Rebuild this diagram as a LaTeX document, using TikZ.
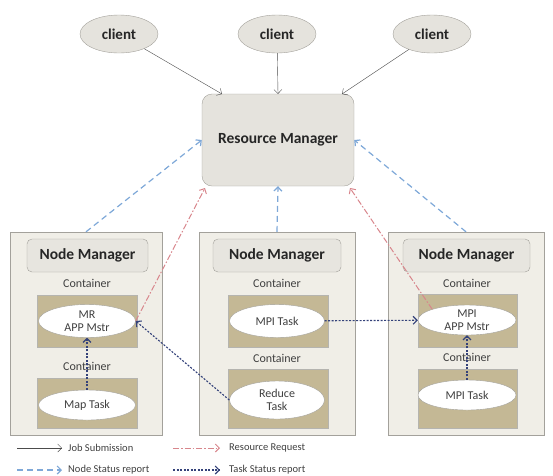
\documentclass[tikz,border=0pt]{standalone}
\usepackage{fontspec}
\setmainfont{Carlito}
\usepackage{xcolor}
\usepackage{tikz}
\usetikzlibrary{arrows.meta,shapes.geometric}

\definecolor{paper}{HTML}{F0EEE7}
\definecolor{tan}{HTML}{C4B895}
\definecolor{edgegray}{HTML}{A3A19B}
\definecolor{nodeblue}{HTML}{7EA8D8}
\definecolor{reqred}{HTML}{D8868C}
\definecolor{tasknavy}{HTML}{34427A}

\begin{document}
\begin{tikzpicture}[x=1pt,y=-1pt]
			\tikzstyle{client} = [ellipse, draw=edgegray, fill=paper!90!gray, minimum width=78pt, minimum height=38pt, font=\fontsize{15}{16}\selectfont\bfseries\color{black!85}]
			\tikzstyle{rmbox} = [draw=edgegray, fill=paper!90!gray, rounded corners=10pt, minimum width=152pt, minimum height=92pt, font=\fontsize{15.5}{16}\selectfont\bfseries\color{black!85}]
			\tikzstyle{host} = [draw=edgegray, fill=paper, minimum height=203pt]
			\tikzstyle{nmbox} = [draw=edgegray, fill=paper!92!gray, rounded corners=5pt, minimum height=33pt, font=\fontsize{15.5}{16}\selectfont\bfseries\color{black!85}]
			\tikzstyle{slot} = [draw=edgegray!80, fill=tan, minimum width=100pt]
			\tikzstyle{task} = [ellipse, draw=edgegray, fill=white, inner sep=0pt, align=center, font=\fontsize{12}{12.5}\selectfont\color{black!75}]
			\tikzstyle{label} = [font=\fontsize{12}{13}\selectfont\color{black!75}]
			\tikzstyle{legend} = [anchor=west, inner sep=0pt, font=\fontsize{10.5}{11}\selectfont\color{black!75}]
			\tikzset{jobedge/.style = {draw=black!70, -{Straight Barb[length=4pt]}}}
			\tikzset{statusedge/.style = {draw=nodeblue, line width=1.2pt, dash pattern=on 6pt off 4pt, -{Straight Barb[length=4pt]}}}
			\tikzset{reqedge/.style = {draw=reqred, line width=1pt, dash pattern=on 6pt off 2pt on 1.5pt off 2pt, -{Straight Barb[length=4pt]}}}
			\tikzset{taskedge/.style = {draw=tasknavy, line width=1.1pt, dash pattern=on 2pt off 1.5pt, -{Straight Barb[length=4pt]}}}

			\useasboundingbox (0,0) rectangle (553,475);

			% clients and resource manager
			\node[client](client1) at (119,34) {client};
			\node[client](client2) at (277,34) {client};
			\node[client](client3) at (432,34) {client};
			\node[rmbox](rm) at (278,140) {Resource Manager};
			\coordinate (rmleft) at (222,94);
			\coordinate (rmright) at (342,94);
			\draw[jobedge](client1) to (rmleft);
			\draw[jobedge](client2) to (rm.north);
			\draw[jobedge](client3) to (rmright);

			% hosts
			\node[host, minimum width=152pt](host1) at (86,333.5) {};
			\node[host, minimum width=156pt](host2) at (277,333.5) {};
			\node[host, minimum width=156pt](host3) at (466,333.5) {};

			\node[nmbox, minimum width=121pt](nm1) at (87.5,255.5) {Node Manager};
			\node[nmbox, minimum width=128pt](nm2) at (277,255.5) {Node Manager};
			\node[nmbox, minimum width=127pt](nm3) at (466.5,255.5) {Node Manager};

			% containers
			\node[label](label1) at (87,283) {Container};
			\node[label](label2) at (87,366) {Container};
			\node[label](label3) at (277,283) {Container};
			\node[label](label4) at (277,358) {Container};
			\node[label](label5) at (467,283) {Container};
			\node[label](label6) at (467,357) {Container};

			\node[slot, minimum height=52pt](slot1) at (87,321) {};
			\node[slot, minimum height=50pt](slot2) at (87,403) {};
			\node[slot, minimum height=52pt](slot3) at (278,321) {};
			\node[slot, minimum height=59pt](slot4) at (278,398.5) {};
			\node[slot, minimum height=53pt, minimum width=99pt](slot5) at (467.5,320.5) {};
			\node[slot, minimum height=59pt, minimum width=99pt](slot6) at (467.5,398.5) {};

			\node[task, minimum width=97pt, minimum height=33pt](mrmaster) at (87,321) {MR\\APP Mstr};
			\node[task, minimum width=97pt, minimum height=30pt](maptask) at (87,405) {Map Task};
			\node[task, minimum width=95pt, minimum height=33pt](mpitask1) at (277,321) {MPI Task};
			\node[task, minimum width=95pt, minimum height=38pt](reducetask) at (277,400) {Reduce\\Task};
			\node[task, minimum width=98pt, minimum height=30pt](mpimaster) at (467,320) {MPI\\APP Mstr};
			\node[task, minimum width=98pt, minimum height=30pt](mpitask2) at (467,395) {MPI Task};

			% status and requests
			\draw[statusedge](host1.north) to (rm.west);
			\draw[statusedge](host2.north) to (rm.south);
			\draw[statusedge](host3.north) to (rm.east);
			\coordinate (rmlow1) at (205,188);
			\coordinate (rmlow2) at (350,188);
			\draw[reqedge](mrmaster.east) to (rmlow1);
			\draw[reqedge](mpimaster.north west) to (rmlow2);
			\draw[taskedge](maptask) to (mrmaster);
			\draw[taskedge](reducetask.west) to (mrmaster.east);
			\draw[taskedge](mpitask1) to (mpimaster);
			\draw[taskedge](mpitask2) to (mpimaster);

			% legend
			\coordinate (key1a) at (17,448); \coordinate (key1b) at (62,448);
			\coordinate (key2a) at (173,448); \coordinate (key2b) at (220,448);
			\coordinate (key3a) at (17,470); \coordinate (key3b) at (62,470);
			\coordinate (key4a) at (173,470); \coordinate (key4b) at (220,470);
			\draw[jobedge](key1a) to (key1b);
			\draw[reqedge](key2a) to (key2b);
			\draw[statusedge](key3a) to (key3b);
			\draw[taskedge](key4a) to (key4b);
			\node[legend](job) at (68,448) {Job Submission};
			\node[legend](request) at (229,448) {Resource Request};
			\node[legend](nodestatus) at (68,470) {Node Status report};
			\node[legend](taskstatus) at (229,470) {Task Status report};

			\end{tikzpicture}
\end{document}
